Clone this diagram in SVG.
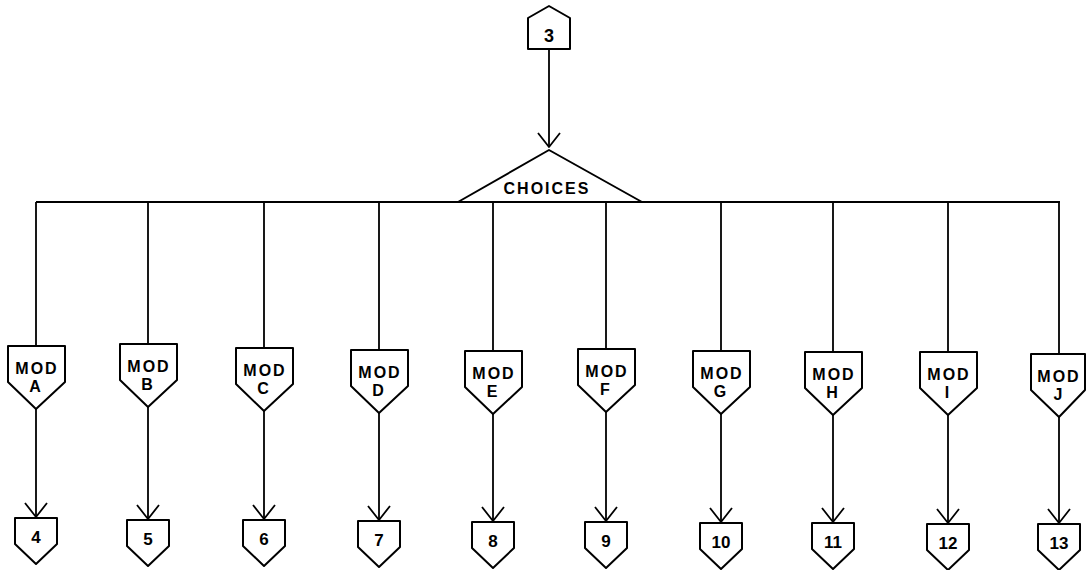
<svg xmlns="http://www.w3.org/2000/svg" width="1087" height="570" viewBox="0 0 1087 570">
  <style>
    .shape { fill: #fff; stroke: #000; stroke-width: 2; stroke-linejoin: round; }
    .wire { fill: none; stroke: #000; stroke-width: 1.8; }
    .lbl { font-family: "Liberation Sans", Arial, sans-serif; font-weight: bold; fill: #000; text-anchor: middle; }
    .mod { font-size: 16px; letter-spacing: 2px; }
    .num { font-size: 17px; }
  </style>
  <defs>
    <marker id="vee" markerUnits="userSpaceOnUse" viewBox="-16 -13 18 26" refX="0" refY="0" markerWidth="18" markerHeight="26" orient="auto">
      <path d="M-14,-11 L0,0 L-14,11" fill="none" stroke="#000" stroke-width="1.8" stroke-linejoin="round"/>
    </marker>
  </defs>

  <!-- connectors -->
  <g id="connectors" class="wire">
    <path d="M549,49 L549,147" marker-end="url(#vee)"/>
    <path d="M458,202 L36,202 M642,202 L1060,202" stroke-width="2.2"/>
    <path d="M36,202 V346 M148,202 V344 M264,202 V348 M379,202 V350 M493,202 V351 M606,202 V349 M721,202 V351 M833,202 V352 M948,202 V352 M1059,202 V354"/>
    <path d="M36,409 V517" marker-end="url(#vee)"/>
    <path d="M148,407 V519" marker-end="url(#vee)"/>
    <path d="M264,411 V519" marker-end="url(#vee)"/>
    <path d="M379,413 V520" marker-end="url(#vee)"/>
    <path d="M493,414 V521" marker-end="url(#vee)"/>
    <path d="M606,412 V521" marker-end="url(#vee)"/>
    <path d="M721,414 V522" marker-end="url(#vee)"/>
    <path d="M833,415 V522" marker-end="url(#vee)"/>
    <path d="M948,415 V523" marker-end="url(#vee)"/>
    <path d="M1059,417 V523" marker-end="url(#vee)"/>
  </g>

  <!-- entry node -->
  <g id="n3">
    <path class="shape" d="M549,6 L570,18 L570,49 L528,49 L528,18 Z"/>
    <text class="lbl" x="549" y="42" font-size="18">3</text>
  </g>

  <!-- decision -->
  <g id="choices">
    <path class="shape" d="M549,150 L642,202 L458,202 Z"/>
    <text class="lbl mod" x="547" y="194">CHOICES</text>
  </g>

  <!-- modules: top edge at y=T, shoulders at T+36, point at T+63 -->
  <g id="modA"><path class="shape" d="M8,346 H65 V382 L36,409 L8,382 Z"/><text class="lbl mod" x="37" y="374">MOD</text><text class="lbl mod" x="36" y="392">A</text></g>
  <g id="modB"><path class="shape" d="M120,344 H177 V380 L148,407 L120,380 Z"/><text class="lbl mod" x="149" y="372">MOD</text><text class="lbl mod" x="148" y="390">B</text></g>
  <g id="modC"><path class="shape" d="M236,348 H293 V384 L264,411 L236,384 Z"/><text class="lbl mod" x="265" y="376">MOD</text><text class="lbl mod" x="264" y="394">C</text></g>
  <g id="modD"><path class="shape" d="M351,350 H408 V386 L379,413 L351,386 Z"/><text class="lbl mod" x="380" y="378">MOD</text><text class="lbl mod" x="379" y="396">D</text></g>
  <g id="modE"><path class="shape" d="M465,351 H522 V387 L493,414 L465,387 Z"/><text class="lbl mod" x="494" y="379">MOD</text><text class="lbl mod" x="493" y="397">E</text></g>
  <g id="modF"><path class="shape" d="M578,349 H635 V385 L606,412 L578,385 Z"/><text class="lbl mod" x="607" y="377">MOD</text><text class="lbl mod" x="606" y="395">F</text></g>
  <g id="modG"><path class="shape" d="M693,351 H750 V387 L721,414 L693,387 Z"/><text class="lbl mod" x="722" y="379">MOD</text><text class="lbl mod" x="721" y="397">G</text></g>
  <g id="modH"><path class="shape" d="M805,352 H862 V388 L833,415 L805,388 Z"/><text class="lbl mod" x="834" y="380">MOD</text><text class="lbl mod" x="833" y="398">H</text></g>
  <g id="modI"><path class="shape" d="M920,352 H977 V388 L948,415 L920,388 Z"/><text class="lbl mod" x="949" y="380">MOD</text><text class="lbl mod" x="948" y="398">I</text></g>
  <g id="modJ"><path class="shape" d="M1031,354 H1085 V390 L1059,417 L1031,390 Z"/><text class="lbl mod" x="1059" y="382">MOD</text><text class="lbl mod" x="1059" y="400">J</text></g>

  <!-- exit nodes: top at T, shoulders at T+26, point at T+46 -->
  <g id="n4"><path class="shape" d="M15,518 H57 V544 L36,564 L15,544 Z"/><text class="lbl num" x="36" y="543">4</text></g>
  <g id="n5"><path class="shape" d="M127,520 H169 V546 L148,566 L127,546 Z"/><text class="lbl num" x="148" y="545">5</text></g>
  <g id="n6"><path class="shape" d="M243,520 H285 V546 L264,566 L243,546 Z"/><text class="lbl num" x="264" y="545">6</text></g>
  <g id="n7"><path class="shape" d="M358,521 H400 V547 L379,567 L358,547 Z"/><text class="lbl num" x="379" y="546">7</text></g>
  <g id="n8"><path class="shape" d="M472,522 H514 V548 L493,568 L472,548 Z"/><text class="lbl num" x="493" y="547">8</text></g>
  <g id="n9"><path class="shape" d="M585,522 H627 V548 L606,568 L585,548 Z"/><text class="lbl num" x="606" y="547">9</text></g>
  <g id="n10"><path class="shape" d="M700,523 H742 V549 L721,569 L700,549 Z"/><text class="lbl num" x="721" y="548">10</text></g>
  <g id="n11"><path class="shape" d="M812,523 H854 V549 L833,569 L812,549 Z"/><text class="lbl num" x="833" y="548">11</text></g>
  <g id="n12"><path class="shape" d="M927,524 H969 V550 L948,570 L927,550 Z"/><text class="lbl num" x="948" y="549">12</text></g>
  <g id="n13"><path class="shape" d="M1038,524 H1080 V550 L1059,570 L1038,550 Z"/><text class="lbl num" x="1059" y="549">13</text></g>
</svg>
